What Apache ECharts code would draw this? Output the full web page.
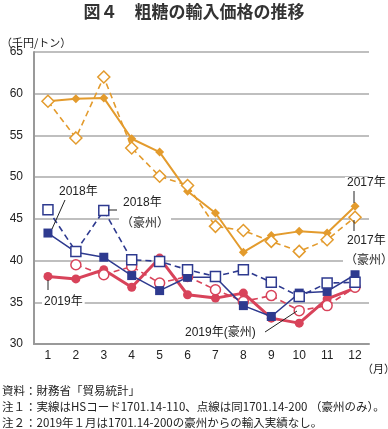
<!DOCTYPE html>
<html><head><meta charset="utf-8">
<script src="https://cdn.jsdelivr.net/npm/echarts@6/dist/echarts.min.js"></script>
<style>html,body{margin:0;padding:0;background:#fff}#c{width:388px;height:429px}</style>
</head><body><div id="c"></div>
<script>
const months = ['1','2','3','4','5','6','7','8','9','10','11','12'];
const yMin = 30, yMax = 65, yStep = 5;
const s2017    = [59.1, 59.4, 59.5, 54.6, 53.0, 48.3, 45.7, 41.0, 43.0, 43.5, 43.3, 46.5];
const s2017au  = [59.1, 54.7, 62.0, 53.5, 50.1, 49.0, 44.1, 43.6, 42.3, 41.1, 42.5, 45.2];
const s2018    = [43.3, 41.0, 40.4, 38.2, 36.4, 38.0, 38.0, 34.6, 33.3, 36.1, 36.3, 38.3];
const s2018au  = [46.1, 41.1, 46.0, 40.1, 39.9, 38.9, 38.1, 38.9, 37.4, 35.7, 37.3, 37.4];
const s2019    = [38.1, 37.8, 38.9, 36.8, 40.3, 35.9, 35.5, 36.1, 33.1, 32.5, 35.4, 36.7];
const s2019au  = [null, 39.5, 38.3, 39.3, 37.3, 38.1, 36.5, 35.1, 35.8, 34.0, 34.6, 36.8];

const ORANGE = '#e39b2d', NAVY = '#2e3a8f', RED = '#d8435a';
const FONT = '"Liberation Sans","Noto Sans CJK JP",sans-serif';
const JFONT = '"Noto Sans CJK JP",sans-serif';

function solid(name, data, color, symbol, size, width) {
  return { name, type: 'line', data, symbol, symbolSize: size, showSymbol: true,
    lineStyle: { color, width }, itemStyle: { color, borderColor: color, borderWidth: 0 },
    connectNulls: false, animation: false };
}
function hollow(name, data, color, symbol, size, width) {
  return { name, type: 'line', data, symbol, symbolSize: size, showSymbol: true,
    lineStyle: { color, width, type: [6, 4] }, itemStyle: { color: '#fff', borderColor: color, borderWidth: 1.5 },
    animation: false };
}

const chart = echarts.init(document.getElementById('c'), null, { renderer: 'canvas' });

function txt(x, y, text, opts) {
  return Object.assign({ type: 'text', x, y, z: 100, style: Object.assign({ text, fill: '#222', font: '12px ' + FONT, textVerticalAlign: 'middle' }, opts || {}) });
}
function ln(x1, y1, x2, y2) {
  return { type: 'line', z: 100, shape: { x1, y1, x2, y2 }, style: { stroke: '#222', lineWidth: 1 } };
}
const annBg = { backgroundColor: '#fff', padding: [0, 2] };
const noteFont = '11.5px ' + JFONT;

chart.setOption({
  animation: false,
  grid: { left: 34, right: 19, top: 52, bottom: 85 },
  xAxis: {
    type: 'category', data: months, boundaryGap: true,
    axisLine: { lineStyle: { color: '#999', width: 2 } },
    axisTick: { inside: true, length: 4, lineStyle: { color: '#999', width: 1.5 } },
    axisLabel: { color: '#222', fontSize: 12, fontFamily: FONT, margin: 6 }
  },
  yAxis: {
    type: 'value', min: yMin, max: yMax, interval: yStep,
    axisLine: { show: true, lineStyle: { color: '#999', width: 2 } },
    axisTick: { show: false },
    splitLine: { lineStyle: { color: '#aaa', width: 1.5 } },
    axisLabel: { color: '#222', fontSize: 12, fontFamily: FONT, margin: 11 }
  },
  series: [
    solid('2019年', s2019, RED, 'circle', 9, 3),
    hollow('2019年(豪州)', s2019au, RED, 'circle', 10, 1.6),
    solid('2018年', s2018, NAVY, 'rect', 9, 1.5),
    hollow('2018年(豪州)', s2018au, NAVY, 'rect', 10, 1.6),
    solid('2017年', s2017, ORANGE, 'diamond', 9, 2),
    hollow('2017年(豪州)', s2017au, ORANGE, 'diamond', 12, 1.6)
  ],
  graphic: [
    txt(194, 12, '図４　粗糖の輸入価格の推移', { font: 'bold 17px ' + JFONT, textAlign: 'center', fill: '#333' }),
    txt(1, 43, '（千円/トン）', { font: '11px ' + JFONT }),
    txt(362, 369, '（月）', { font: '11px ' + JFONT }),
    txt(2, 391, '資料：財務省「貿易統計」', { font: noteFont }),
    txt(2, 407, '注１：実線はHSコード1701.14-110、点線は同1701.14-200 （豪州のみ）。', { font: noteFont }),
    txt(2, 423, '注２：2019年１月は1701.14-200の豪州からの輸入実績なし。', { font: noteFont }),
    // annotations
    txt(57, 192, '2018年', Object.assign({}, annBg)),
    ln(65, 200, 52, 229),
    txt(121, 203, '2018年', Object.assign({}, annBg)),
    txt(119, 222, '（豪州）', Object.assign({ font: '12px ' + JFONT }, annBg)),
    ln(108, 210, 117, 210),
    txt(42, 302, '2019年', Object.assign({}, annBg)),
    ln(48, 280, 48, 290),
    txt(183, 333, '2019年(豪州)', Object.assign({}, annBg)),
    ln(265, 332, 297, 311),
    txt(345, 183, '2017年', Object.assign({}, annBg)),
    ln(354, 191, 354, 203),
    txt(345, 241, '2017年', Object.assign({}, annBg)),
    txt(343, 259, '（豪州）', Object.assign({ font: '12px ' + JFONT }, annBg)),
    ln(354, 220, 354, 231)
  ]
});
</script>
</body></html>
